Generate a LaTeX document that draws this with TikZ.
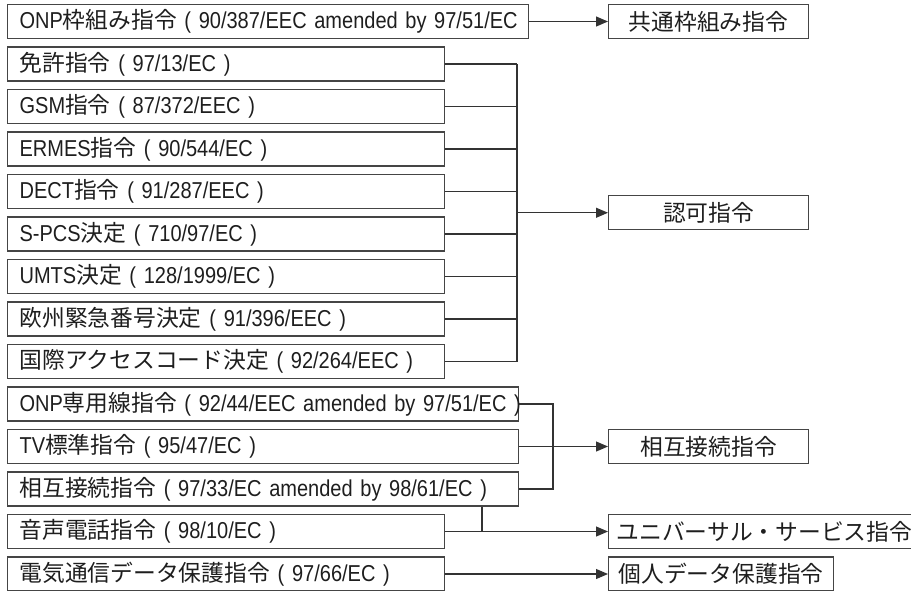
\documentclass[tikz,border=0pt]{standalone}
\usepackage{fontspec}
\setmainfont{Liberation Sans}[FakeStretch=0.87]
\newfontfamily\jp{Noto Sans CJK JP}[Scale=0.99]
\usetikzlibrary{arrows.meta}
\definecolor{linec}{HTML}{333333}
\definecolor{boxc}{HTML}{454545}
\definecolor{textc}{HTML}{1E1E1E}
\newcommand\J[1]{{\jp #1}}
\begin{document}
\begin{tikzpicture}[x=1pt,y=-1pt,
  lbox/.style={draw=boxc, line width=1.2pt, anchor=west, minimum height=34pt,
    inner xsep=12pt, inner ysep=0pt, align=left, text=textc,
    font=\fontsize{23}{27}\selectfont},
  rbox/.style={draw=boxc, line width=1.2pt, anchor=west, minimum height=34pt,
    minimum width=200pt, inner sep=0pt, text=textc,
    font=\fontsize{23}{27}\selectfont},
  conn/.style={draw=linec, line width=1.1pt},
  arr/.style={-{Triangle[length=12pt,width=10pt]}}]
\useasboundingbox (0,0) rectangle (911,590);
\clip (0,0) rectangle (911,590);
% left column
\node[lbox, text width=497pt] (onpf) at (7,21.5) {\mbox{ONP\J{枠組み指令} ( 90/387/EEC amended by 97/51/EC}};
\node[lbox, text width=413pt] (lic) at (7,64) {\mbox{\J{免許指令} ( 97/13/EC )}};
\node[lbox, text width=413pt] (gsm) at (7,106.5) {\mbox{GSM\J{指令} ( 87/372/EEC )}};
\node[lbox, text width=413pt] (ermes) at (7,149) {\mbox{ERMES\J{指令} ( 90/544/EC )}};
\node[lbox, text width=413pt] (dect) at (7,191.5) {\mbox{DECT\J{指令} ( 91/287/EEC )}};
\node[lbox, text width=413pt] (spcs) at (7,234) {\mbox{S-PCS\J{決定} ( 710/97/EC )}};
\node[lbox, text width=413pt] (umts) at (7,276.5) {\mbox{UMTS\J{決定} ( 128/1999/EC )}};
\node[lbox, text width=413pt] (emg) at (7,319) {\mbox{\J{欧州緊急番号決定} ( 91/396/EEC )}};
\node[lbox, text width=413pt] (iac) at (7,361.5) {\mbox{\J{国際アクセスコード決定} ( 92/264/EEC )}};
\node[lbox, text width=487pt] (onpl) at (7,404) {\mbox{ONP\J{専用線指令} ( 92/44/EEC amended by 97/51/EC )}};
\node[lbox, text width=487pt] (tv) at (7,446.5) {\mbox{TV\J{標準指令} ( 95/47/EC )}};
\node[lbox, text width=487pt] (icd) at (7,489) {\mbox{\J{相互接続指令} ( 97/33/EC amended by 98/61/EC )}};
\node[lbox, text width=413pt] (voice) at (7,531.5) {\mbox{\J{音声電話指令} ( 98/10/EC )}};
\node[lbox, text width=413pt] (data) at (7,574) {\mbox{\J{電気通信データ保護指令} ( 97/66/EC )}};
% right column
\node[rbox] (common) at (608,21.5) {\J{共通枠組み指令}};
\node[rbox] (auth) at (608,212.75) {\J{認可指令}};
\node[rbox] (ic) at (608,446.5) {\J{相互接続指令}};
\node[rbox, text width=330pt, inner xsep=8pt, align=left] (us) at (608,531.5) {\mbox{\J{ユニバーサル・サービス指令}}};
\node[rbox, minimum width=225pt] (pd) at (608,574) {\J{個人データ保護指令}};
% connectors
\draw[conn,arr] (onpf.east) -- (common.west);
\coordinate (bus1) at (517,212.75);
\foreach \b in {lic,gsm,ermes,dect,spcs,umts,emg,iac}
  \draw[conn] (\b.east) -- (\b.east -| bus1);
\draw[conn] (lic.east -| bus1) -- (iac.east -| bus1);
\draw[conn,arr] (bus1) -- (auth.west);
\coordinate (bus2) at (553,446.5);
\draw[conn] (onpl.east) -| (bus2) |- (icd.east);
\draw[conn,arr] (tv.east) -- (ic.west);
\coordinate (j) at (482,531.5);
\draw[conn] (j |- icd.south) -- (j);
\draw[conn,arr] (voice.east) -- (us.west);
\draw[conn,arr] (data.east) -- (pd.west);
\end{tikzpicture}
\end{document}
